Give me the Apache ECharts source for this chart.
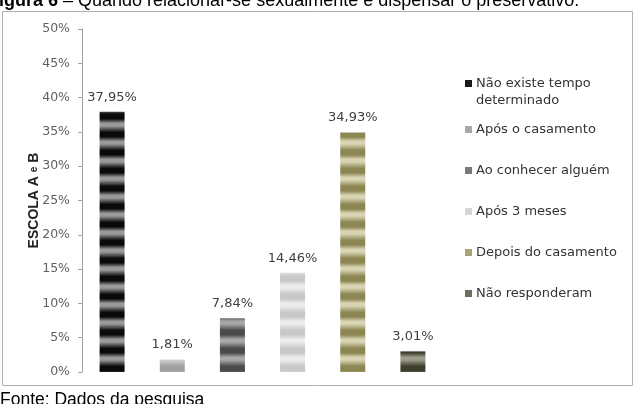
<!DOCTYPE html>
<html>
<head>
<meta charset="utf-8">
<script src="https://cdn.jsdelivr.net/npm/echarts@6/dist/echarts.min.js"></script>
<style>
  html, body { margin: 0; padding: 0; background: #fff; }
  #chart { width: 639px; height: 404px; }
</style>
</head>
<body>
<div id="chart"></div>
<script>
var categories = ['Não existe tempo\ndeterminado', 'Após o casamento', 'Ao conhecer alguém', 'Após 3 meses', 'Depois do casamento', 'Não responderam']
var values = [37.95, 1.81, 7.84, 14.46, 34.93, 3.01]
var yTicks = [0, 5, 10, 15, 20, 25, 30, 35, 40, 45, 50]

// cores das listras de cada barra (escuro, claro)
var stripeColors = [
  ['#0a0a0a', '#9a9a9a'],
  ['#a0a0a0', '#cdcdcd'],
  ['#4a4a4a', '#a8a8a8'],
  ['#c8c8c8', '#ececec'],
  ['#8c8652', '#d8d4b4'],
  ['#3e3e2e', '#9c9c8c']
]
var legendColors = ['#1a1a1a', '#a8a8a8', '#7a7a7a', '#d6d6d6', '#a8a274', '#6e6e5c']

function stripe(dark, light) {
  var c = document.createElement('canvas')
  c.width = 4
  c.height = 18
  var ctx = c.getContext('2d')
  var g = ctx.createLinearGradient(0, 0, 0, 18)
  g.addColorStop(0, light)
  g.addColorStop(0.35, dark)
  g.addColorStop(0.6, dark)
  g.addColorStop(0.85, light)
  g.addColorStop(1, light)
  ctx.fillStyle = g
  ctx.fillRect(0, 0, 4, 18)
  return c
}

var series = categories.map(function (name, i) {
  var data = values.map(function (v, j) { return j === i ? v : null })
  return {
    name: name,
    type: 'bar',
    stack: 'all',
    barWidth: 25,
    data: data,
    itemStyle: { color: { image: stripe(stripeColors[i][0], stripeColors[i][1]), repeat: 'repeat' } },
    label: {
      show: true,
      position: 'top',
      distance: 8,
      color: '#404040',
      fontSize: 13,
      fontFamily: 'DejaVu Sans',
      formatter: function (p) { return p.value.toFixed(2).replace('.', ',') + '%' }
    }
  }
})

var myChart = echarts.init(document.getElementById('chart'))

var option = {
  animation: false,
  color: legendColors,
  grid: { left: 82, right: 196, top: 29, bottom: 32 },
  legend: {
    orient: 'vertical',
    left: 465,
    top: 58,
    padding: 0,
    itemWidth: 7,
    itemHeight: 7,
    itemGap: 0,
    icon: 'rect',
    data: categories.map(function (c, i) {
      var item = { name: c, itemStyle: { color: legendColors[i] } }
      if (i === 0) item.textStyle = { padding: [0, 0, 0, -1] }
      return item
    }),
    // linha vazia no primeiro item: o ícone fica na altura da primeira linha
    formatter: function (name) { return name === categories[0] ? '\n' + name : name },
    textStyle: { fontSize: 13, color: '#333', fontFamily: 'DejaVu Sans', padding: [12, 0, 12, -1], lineHeight: 17 }
  },
  xAxis: {
    type: 'category',
    data: categories,
    axisLine: { show: false },
    axisTick: { show: false },
    axisLabel: { show: false }
  },
  yAxis: {
    type: 'value',
    min: 0,
    max: 50,
    interval: 5,
    name: '{b|ESCOLA A }{s|e}{b| B}',
    nameLocation: 'middle',
    nameGap: 41,
    nameMoveOverlap: false,
    nameRotate: 90,
    nameTextStyle: {
      rich: {
        b: { fontSize: 14, fontWeight: 'bold', color: '#222', fontFamily: 'Liberation Sans' },
        s: { fontSize: 10, fontWeight: 'bold', color: '#222', fontFamily: 'Liberation Sans' }
      }
    },
    axisLine: { show: true, lineStyle: { color: '#a0a0a0' } },
    axisTick: { show: true, length: 4, lineStyle: { color: '#a0a0a0' } },
    splitLine: { show: false },
    axisLabel: {
      color: '#606060',
      fontSize: 12.5,
      fontFamily: 'DejaVu Sans',
      margin: 12,
      formatter: function (v) { return yTicks.indexOf(v) >= 0 ? v + '%' : '' }
    }
  },
  graphic: [
    {
      type: 'rect',
      shape: { x: 2.5, y: 11.5, width: 630, height: 374 },
      style: { fill: 'none', stroke: '#b0b0b0', lineWidth: 1 },
      z: -1
    },
    {
      type: 'text',
      left: -12,
      top: -8,
      style: {
        text: '{b|Figura 6} – Quando relacionar-se sexualmente é dispensar o preservativo.',
        rich: { b: { fontWeight: 'bold', fontSize: 18, fontFamily: 'Liberation Sans', fill: '#000' } },
        fontSize: 18,
        fontFamily: 'Liberation Sans',
        fill: '#000'
      }
    },
    {
      type: 'text',
      left: 0,
      top: 391,
      style: {
        text: 'Fonte: Dados da pesquisa',
        fontSize: 17.5,
        fontFamily: 'Liberation Sans',
        fill: '#000'
      }
    }
  ],
  series: series
}

myChart.setOption(option)
</script>
</body>
</html>
